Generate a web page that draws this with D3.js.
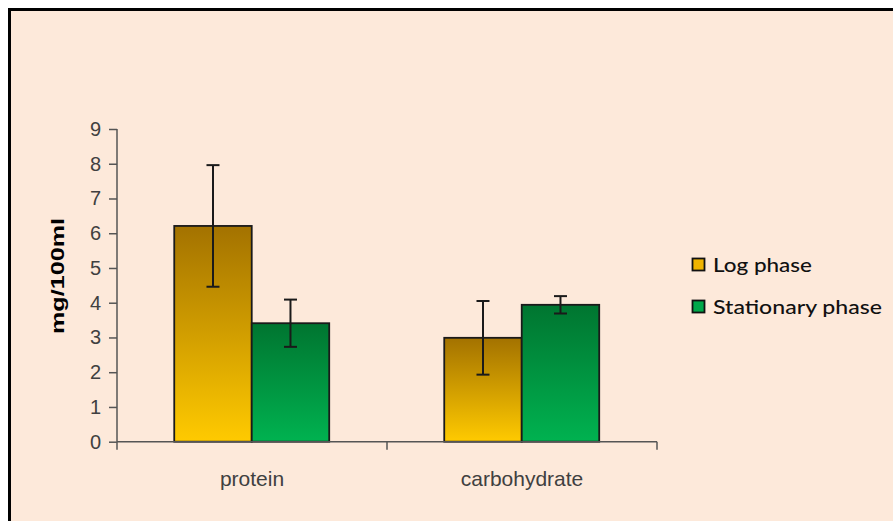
<!DOCTYPE html>
<html><head><meta charset="utf-8">
<script src="https://cdn.jsdelivr.net/npm/d3@7"></script>
<style>html,body{margin:0;padding:0;background:#fff;}svg{display:block;}</style>
</head><body>
<script>
const categories = ["protein", "carbohydrate"];
const seriesNames = ["Log phase", "Stationary phase"];
const logValues = [6.21, 2.99];
const logErrors = [1.75, 1.06];
const statValues = [3.41, 3.94];
const statErrors = [0.68, 0.25];
const yTicks = [0,1,2,3,4,5,6,7,8,9];

const W = 893, H = 521;
const svg = d3.select("body").append("svg").attr("width", W).attr("height", H);
const defs = svg.append("defs");
const g1 = defs.append("linearGradient").attr("id","gLog").attr("x1",0).attr("y1",0).attr("x2",0).attr("y2",1);
g1.append("stop").attr("offset","0%").attr("stop-color","#A37200");
g1.append("stop").attr("offset","100%").attr("stop-color","#FFCA00");
const g2 = defs.append("linearGradient").attr("id","gStat").attr("x1",0).attr("y1",0).attr("x2",0).attr("y2",1);
g2.append("stop").attr("offset","0%").attr("stop-color","#007530");
g2.append("stop").attr("offset","100%").attr("stop-color","#00B250");
const fills = ["url(#gLog)", "url(#gStat)"];
const legendFills = ["#F0B400", "#00A84A"];

// background + frame
svg.append("rect").attr("x",8).attr("y",8).attr("width",W).attr("height",H).attr("fill","#FDE9DA");
svg.append("path").attr("d",`M9.5,${H+5} V9.5 H${W+5}`).attr("fill","none").attr("stroke","#000").attr("stroke-width",3);

const y = d3.scaleLinear().domain([0,9]).range([441.7,129]);
const x0 = d3.scaleBand().domain(categories).range([117,657]);
const bw = x0.bandwidth();
const x1 = d3.scaleBand().domain(seriesNames).range([bw*0.212, bw*0.786]);

const data = categories.map((c,i)=>({cat:c, vals:[
  {s:seriesNames[0], v:logValues[i], e:logErrors[i], f:fills[0]},
  {s:seriesNames[1], v:statValues[i], e:statErrors[i], f:fills[1]}]}));

// axes
const axisColor = "#555";
const yAxis = svg.append("g").attr("transform","translate(117,0)")
  .call(d3.axisLeft(y).tickValues(yTicks).tickSize(8).tickPadding(8).tickFormat(d3.format("d")));
yAxis.select(".domain").attr("stroke",axisColor).attr("stroke-width",1.5).attr("d",`M0,${y(9)}V${y(0)}`);
yAxis.selectAll(".tick line").attr("stroke",axisColor).attr("stroke-width",1.5);
yAxis.selectAll(".tick text").attr("fill","#404040").style("font-family","'Liberation Sans', Arial, sans-serif").style("font-size","20px");

const bars = svg.append("g");
data.forEach(d=>{
  const gx = x0(d.cat);
  d.vals.forEach(v=>{
    bars.append("rect").attr("x",gx+x1(v.s)).attr("y",y(v.v)).attr("width",x1.bandwidth()).attr("height",y(0)-y(v.v))
      .attr("fill",v.f).attr("stroke","#1a1a1a").attr("stroke-width",1.8);
  });
});

const xAxis = svg.append("g").attr("transform",`translate(0,${y(0)})`)
  .call(d3.axisBottom(x0).tickSize(0).tickPadding(29));
xAxis.select(".domain").attr("stroke",axisColor).attr("stroke-width",1.5).attr("d",`M117,0H657`);
xAxis.selectAll(".tick text").attr("fill","#404040").style("font-family","'Liberation Sans', Arial, sans-serif").style("font-size","21px");
// category boundary ticks
const bounds = categories.map(c=>x0(c)).concat([x0(categories[categories.length-1])+bw]);
svg.append("g").selectAll("line").data(bounds).join("line")
  .attr("x1",d=>d).attr("x2",d=>d).attr("y1",y(0)).attr("y2",y(0)+8)
  .attr("stroke",axisColor).attr("stroke-width",1.5);

// error bars
const eb = svg.append("g").attr("stroke","#1a1a1a").attr("stroke-width",2);
data.forEach(d=>{
  const gx = x0(d.cat);
  d.vals.forEach(v=>{
    const cx = gx + x1(v.s) + x1.bandwidth()/2;
    eb.append("line").attr("x1",cx).attr("x2",cx).attr("y1",y(v.v+v.e)).attr("y2",y(v.v-v.e));
    eb.append("line").attr("x1",cx-6.5).attr("x2",cx+6.5).attr("y1",y(v.v+v.e)).attr("y2",y(v.v+v.e));
    eb.append("line").attr("x1",cx-6.5).attr("x2",cx+6.5).attr("y1",y(v.v-v.e)).attr("y2",y(v.v-v.e));
  });
});

// y title
svg.append("text").attr("transform","translate(64,276) rotate(-90)").attr("text-anchor","middle")
  .attr("fill","#000").style("font-family","'Liberation Sans', Arial, sans-serif").style("font-weight","bold").style("font-size","18px")
  .attr("textLength",116).attr("lengthAdjust","spacingAndGlyphs")
  .text("mg/100ml");

// legend
const lg = svg.append("g");
const legendWidths = [99, 169];
seriesNames.forEach((s,i)=>{
  const yy = 258 + i*42;
  lg.append("rect").attr("x",692.5).attr("y",yy+0.5).attr("width",12).attr("height",12)
    .attr("fill",legendFills[i]).attr("stroke","#111").attr("stroke-width",1.8);
  lg.append("text").attr("x",713).attr("y",yy+13.5).attr("fill","#111")
    .style("font-family","Lato, 'Open Sans', sans-serif").style("font-size","20px").style("font-weight","500")
    .attr("textLength",legendWidths[i]).attr("lengthAdjust","spacingAndGlyphs").text(s);
});
</script>
</body></html>
